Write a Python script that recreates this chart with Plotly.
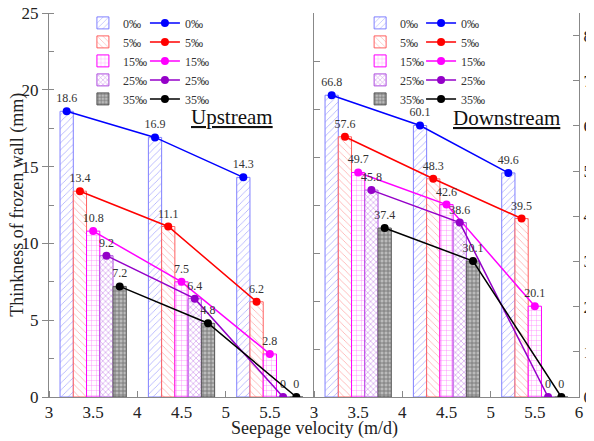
import plotly.graph_objects as go

velocity = [3.5, 4.5, 5.5]
contents = ["0‰", "5‰", "15‰", "25‰", "35‰"]
upstream = [
    [18.6, 16.9, 14.3],
    [13.4, 11.1, 6.2],
    [10.8, 7.5, 2.8],
    [9.2, 6.4, 0],
    [7.2, 4.8, 0],
]
downstream = [
    [66.8, 60.1, 49.6],
    [57.6, 48.3, 39.5],
    [49.7, 42.6, 20.1],
    [45.8, 38.6, 0],
    [37.4, 30.1, 0],
]

line_colors = ["#0000ff", "#ff0000", "#ff00ff", "#9400c8", "#000000"]
bar_edge = ["#8080ff", "#ff6060", "#ff00ff", "#b050e0", "#555555"]
pat_fg = ["#5050ff", "#ff5050", "#ff00ff", "#a030d8", "#333333"]
pat_bg = ["white", "white", "white", "white", "#bbbbbb"]
pat_shape = ["/", "\\", "+", "x", "+"]
pat_size = [5, 5, 5, 4, 4]
pat_sol = [0.15, 0.15, 0.15, 0.3, 0.4]
bar_w = 0.15
FONT = "Liberation Serif, Times New Roman, DejaVu Serif, serif"

fig = go.Figure()

panels = [
    (upstream, "x", "y", "legend", "legend2"),
    (downstream, "x2", "y2", "legend3", "legend4"),
]
for data, xa, ya, lgb, lgl in panels:
    for k, name in enumerate(contents):
        xs = [v + (k - 2) * bar_w for v in velocity]
        fig.add_trace(go.Bar(
            x=xs, y=data[k], width=bar_w, name=name, xaxis=xa, yaxis=ya,
            legend=lgb,
            marker=dict(color=pat_bg[k], line=dict(color=bar_edge[k], width=1),
                        pattern=dict(shape=pat_shape[k], fgcolor=pat_fg[k],
                                     bgcolor=pat_bg[k], size=pat_size[k],
                                     solidity=pat_sol[k], fillmode="overlay")),
        ))
    for k, name in enumerate(contents):
        xs = [v + (k - 2) * bar_w for v in velocity]
        fig.add_trace(go.Scatter(
            x=xs, y=data[k], name=name, xaxis=xa, yaxis=ya, legend=lgl,
            mode="lines+markers+text",
            line=dict(color=line_colors[k], width=1.5),
            marker=dict(color=line_colors[k], size=8),
            text=[f"{val:g}" for val in data[k]],
            textposition="top center",
            textfont=dict(family=FONT, size=12, color="#333333"),
        ))

# invisible trace to activate right panel's left axis
fig.add_trace(go.Scatter(x=[3], y=[0], xaxis="x2", yaxis="y3", mode="markers",
                         marker=dict(opacity=0), showlegend=False, hoverinfo="skip"))

axis_col = "#888888"
tickfont = dict(family=FONT, size=17, color="#222222")
legfont = dict(family=FONT, size=12, color="#333333")

common_x = dict(range=[3, 6], showline=True, linecolor=axis_col, linewidth=1,
                showgrid=False, zeroline=False, ticks="", tickfont=tickfont, automargin=False,
                ticklabeloverflow="allow",
                minor=dict(dtick=1, tick0=3, ticks="inside", ticklen=6, tickcolor=axis_col,
                           showgrid=False))

legend_common = dict(font=legfont, bgcolor="rgba(0,0,0,0)", borderwidth=0,
                     tracegroupgap=0, itemwidth=30, yanchor="top", xanchor="left")

fig.update_layout(
    width=586, height=433,
    margin=dict(l=41, r=15, t=5, b=44, autoexpand=False),
    paper_bgcolor="white", plot_bgcolor="white",
    barmode="overlay",
    font=dict(family=FONT),
    xaxis=dict(domain=[0, 0.5], anchor="y",
               tickvals=[3, 3.5, 4, 4.5, 5, 5.5], ticktext=["3", "3.5", "4", "4.5", "5", "5.5"],
               **common_x),
    xaxis2=dict(domain=[0.5, 1], anchor="y2",
                tickvals=[3, 3.5, 4, 4.5, 5, 5.5, 6], ticktext=["3", "3.5", "4", "4.5", "5", "5.5", "6"],
                **common_x),
    yaxis=dict(range=[0, 25], dtick=5, anchor="x", showline=True, linecolor=axis_col,
               showgrid=False, zeroline=False, ticks="outside", ticklen=6, tickcolor=axis_col,
               tickfont=tickfont, automargin=False, ticklabeloverflow="allow",
               minor=dict(dtick=2.5, ticks="inside", ticklen=5, tickcolor=axis_col, showgrid=False)),
    yaxis2=dict(range=[0, 85], dtick=10, anchor="x2", side="right", showline=True,
                linecolor=axis_col, showgrid=False, zeroline=False, ticks="inside",
                ticklen=6, tickcolor=axis_col, tickfont=tickfont, automargin=False,
                ticklabeloverflow="allow"),
    yaxis3=dict(range=[0, 80], dtick=10, anchor="x2", overlaying="y2", side="left",
                showline=True, linecolor=axis_col, showgrid=False, zeroline=False,
                ticks="inside", ticklen=6, tickcolor=axis_col, showticklabels=False,
                automargin=False),
    legend=dict(x=0.064, y=1.012, **legend_common),
    legend2=dict(x=0.181, y=1.012, **legend_common),
    legend3=dict(x=0.587, y=1.012, **legend_common),
    legend4=dict(x=0.702, y=1.012, **legend_common),
    annotations=[
        dict(text="<u>Upstream</u>", x=5.07, y=18.2, xref="x", yref="y", showarrow=False,
             font=dict(family=FONT, size=21, color="#111111")),
        dict(text="<u>Downstream</u>", x=5.18, y=61.7, xref="x2", yref="y2", showarrow=False,
             font=dict(family=FONT, size=21, color="#111111")),
        dict(text="Seepage velocity (m/d)", x=0.5, y=-0.083, xref="paper", yref="paper",
             showarrow=False, yanchor="middle", font=dict(family=FONT, size=18, color="#222222")),
        dict(text="Thinkness of frozen wall (mm)", x=-0.061, y=0.5, xref="paper", yref="paper",
             showarrow=False, textangle=-90, xanchor="center", yanchor="middle",
             font=dict(family=FONT, size=18, color="#222222")),
    ],
)

fig.write_html("out.html")
